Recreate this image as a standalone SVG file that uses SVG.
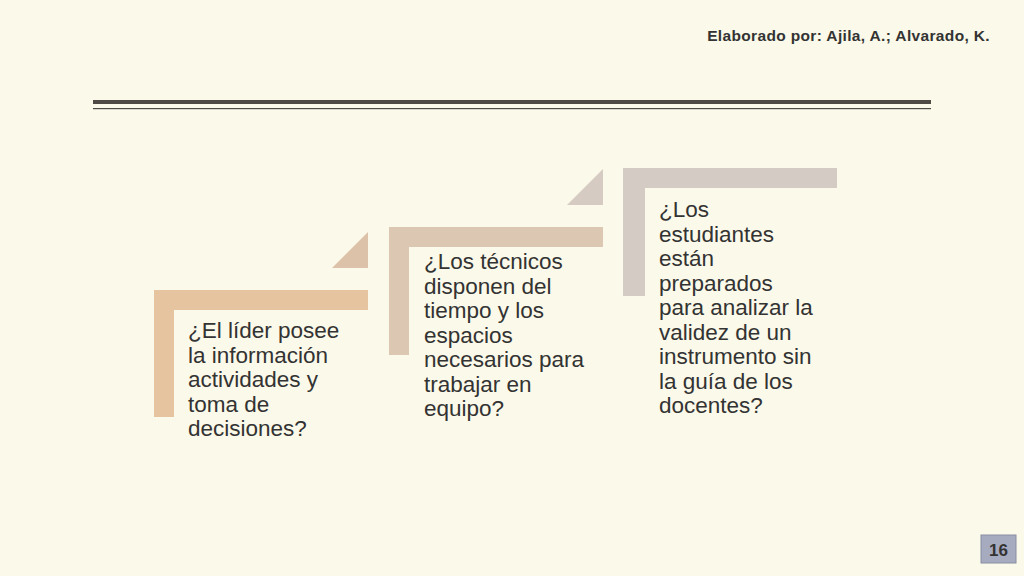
<svg xmlns="http://www.w3.org/2000/svg" width="1024" height="576" viewBox="0 0 1024 576">
<style>
text{font-family:"Liberation Sans",Arial,sans-serif;fill:#333}
.t{font-size:22.5px}
</style>
<rect width="1024" height="576" fill="#fbf9e9"/>
<text x="990" y="41" text-anchor="end" font-size="15.5" font-weight="bold" letter-spacing="0.35" fill="#1e1e1e">Elaborado por: Ajila, A.; Alvarado, K.</text>
<rect x="93" y="100" width="838" height="4" fill="#4f4a45"/>
<rect x="93" y="108" width="838" height="1.2" fill="#4f4a45"/>
<g id="n1">
<path d="M154 290H368V310H174V417H154Z" fill="#e6c4a0"/>
<polygon points="332,268 368,232 368,268" fill="#dcc2a8"/>
<text class="t"><tspan x="188" y="338">¿El líder posee</tspan><tspan x="188" y="362.5">la información</tspan><tspan x="188" y="387">actividades y</tspan><tspan x="188" y="411.5">toma de</tspan><tspan x="188" y="436">decisiones?</tspan></text>
</g>
<g id="n2">
<path d="M389 227H603V247H409V355H389Z" fill="#dcc7b2"/>
<polygon points="567,205 603,169 603,205" fill="#d6cbc2"/>
<text class="t"><tspan x="424" y="269">¿Los técnicos</tspan><tspan x="424" y="293.5">disponen del</tspan><tspan x="424" y="318">tiempo y los</tspan><tspan x="424" y="342.5">espacios</tspan><tspan x="424" y="367">necesarios para</tspan><tspan x="424" y="391.5">trabajar en</tspan><tspan x="424" y="416">equipo?</tspan></text>
</g>
<g id="n3">
<path d="M623 168H837V188H645V296H623Z" fill="#d4cbc4"/>
<text class="t"><tspan x="659" y="217">¿Los</tspan><tspan x="659" y="241.5">estudiantes</tspan><tspan x="659" y="266">están</tspan><tspan x="659" y="290.5">preparados</tspan><tspan x="659" y="315">para analizar la</tspan><tspan x="659" y="339.5">validez de un</tspan><tspan x="659" y="364">instrumento sin</tspan><tspan x="659" y="388.5">la guía de los</tspan><tspan x="659" y="413">docentes?</tspan></text>
</g>
<g id="connectors"></g>
<g id="page">
<rect x="981" y="535" width="35" height="28" fill="#a7abbf" stroke="#8a8ea3"/>
<text x="998.5" y="556" text-anchor="middle" font-size="17" font-weight="bold" fill="#111">16</text>
</g>
</svg>
